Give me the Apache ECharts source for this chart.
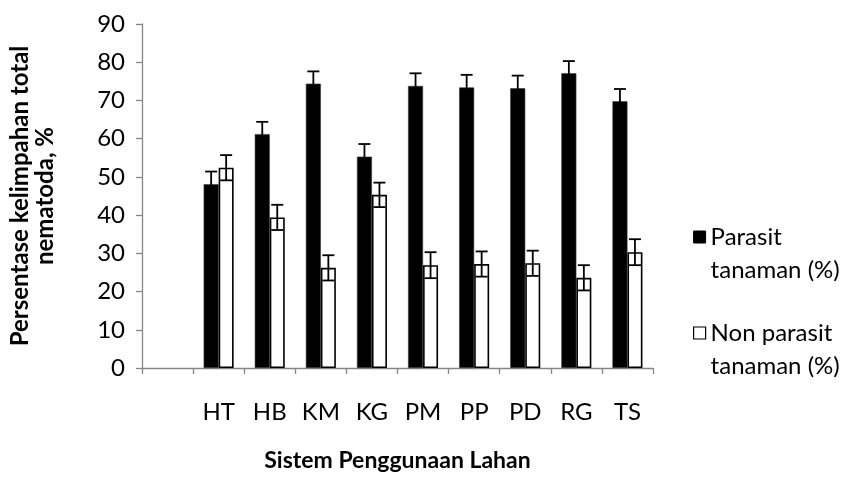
<!DOCTYPE html>
<html>
<head>
<meta charset="utf-8">
<script src="https://cdn.jsdelivr.net/npm/echarts@6/dist/echarts.min.js"></script>
<style>
html,body{margin:0;padding:0;background:#fff;}
#chart{width:846px;height:477px;}
</style>
</head>
<body>
<div id="chart"></div>
<script>
const categories = ['', 'HT', 'HB', 'KM', 'KG', 'PM', 'PP', 'PD', 'RG', 'TS'];
const parasit = [null, 48.1, 61.2, 74.4, 55.3, 73.8, 73.4, 73.2, 77.1, 69.8];
const nonParasit = [null, 52.4, 39.4, 26.2, 45.3, 26.9, 27.2, 27.4, 23.6, 30.3];
const parasitErr = [null, 3.3, 3.2, 3.2, 3.3, 3.3, 3.3, 3.3, 3.2, 3.2];
const nonParasitErr = [null, 3.3, 3.3, 3.3, 3.2, 3.4, 3.3, 3.3, 3.3, 3.4];
const seriesNames = ['Parasit tanaman (%)', 'Non parasit tanaman (%)'];
const yMin = 0, yMax = 90, yStep = 10;

const FONT = 'Lato';
const BAR_W = 15;
const axisGray = '#868686';

function errData(vals, errs) {
  const out = [];
  vals.forEach((v, i) => { if (v !== null) out.push([i, v, errs[i]]); });
  return out;
}
function errRender(offset) {
  return function (params, api) {
    const i = api.value(0), v = api.value(1), e = api.value(2);
    const top = api.coord([i, v + e]);
    const bot = api.coord([i, v - e]);
    const x = top[0] + offset;
    const half = 6;
    const st = { stroke: '#000', lineWidth: 1.8 };
    return {
      type: 'group',
      children: [
        { type: 'line', shape: { x1: x, y1: top[1], x2: x, y2: bot[1] }, style: st },
        { type: 'line', shape: { x1: x - half, y1: top[1], x2: x + half, y2: top[1] }, style: st },
        { type: 'line', shape: { x1: x - half, y1: bot[1], x2: x + half, y2: bot[1] }, style: st }
      ]
    };
  };
}

const chart = echarts.init(document.getElementById('chart'), null, { renderer: 'canvas' });
chart.setOption({
  animation: false,
  backgroundColor: '#fff',
  textStyle: { fontFamily: FONT },
  grid: { left: 141, right: 193, top: 24, bottom: 108.5, containLabel: false },
  legend: {
    orient: 'vertical',
    left: 688,
    top: 182.5,
    itemWidth: 12,
    itemHeight: 12,
    itemGap: -3,
    data: [
      { name: seriesNames[0], icon: 'rect', itemStyle: { color: '#000', borderColor: '#000', borderWidth: 1 } },
      { name: seriesNames[1], icon: 'rect', itemStyle: { color: '#fff', borderColor: '#000', borderWidth: 1.2 } }
    ],
    formatter: n => ' \n' + n.replace(' tanaman', '\ntanaman'),
    textStyle: { fontFamily: FONT, fontSize: 24, color: '#000', lineHeight: 33 }
  },
  xAxis: {
    type: 'category',
    data: categories,
    boundaryGap: true,
    name: 'Sistem Penggunaan Lahan',
    nameLocation: 'middle',
    nameGap: 81,
    nameTextStyle: { fontFamily: FONT, fontWeight: 'bold', fontSize: 23, color: '#000' },
    axisLine: { lineStyle: { color: axisGray, width: 1.3 } },
    axisTick: { show: true, alignWithLabel: false, length: 6, inside: false, lineStyle: { color: axisGray, width: 1.3 } },
    axisLabel: { margin: 32, fontFamily: FONT, fontSize: 24, color: '#000', interval: 0 },
    splitLine: { show: false }
  },
  yAxis: {
    type: 'value',
    min: yMin, max: yMax, interval: yStep,
    name: 'Persentase kelimpahan total\nnematoda, %',
    nameLocation: 'middle',
    nameRotate: 90,
    nameGap: 84,
    nameTextStyle: { fontFamily: FONT, fontWeight: 'bold', fontSize: 24, color: '#000', lineHeight: 25, align: 'center' },
    axisLine: { show: true, lineStyle: { color: axisGray, width: 1.3 } },
    axisTick: { show: true, length: 6, lineStyle: { color: axisGray, width: 1.3 } },
    axisLabel: { margin: 17, fontFamily: FONT, fontSize: 24, color: '#000' },
    splitLine: { show: false }
  },
  series: [
    {
      name: seriesNames[0], type: 'bar', data: parasit, barWidth: BAR_W, barGap: '0%',
      itemStyle: { color: '#000', borderColor: '#3a3a3a', borderWidth: 0.6 }
    },
    {
      name: seriesNames[1], type: 'bar', data: nonParasit, barWidth: BAR_W, barGap: '0%',
      itemStyle: { color: '#fff', borderColor: '#000', borderWidth: 1.6 }
    },
    {
      type: 'custom', name: 'errP', data: errData(parasit, parasitErr),
      encode: { x: 0, y: 1 }, renderItem: errRender(-BAR_W / 2), z: 5, silent: true
    },
    {
      type: 'custom', name: 'errN', data: errData(nonParasit, nonParasitErr),
      encode: { x: 0, y: 1 }, renderItem: errRender(BAR_W / 2), z: 5, silent: true
    }
  ]
});
</script>
</body>
</html>
